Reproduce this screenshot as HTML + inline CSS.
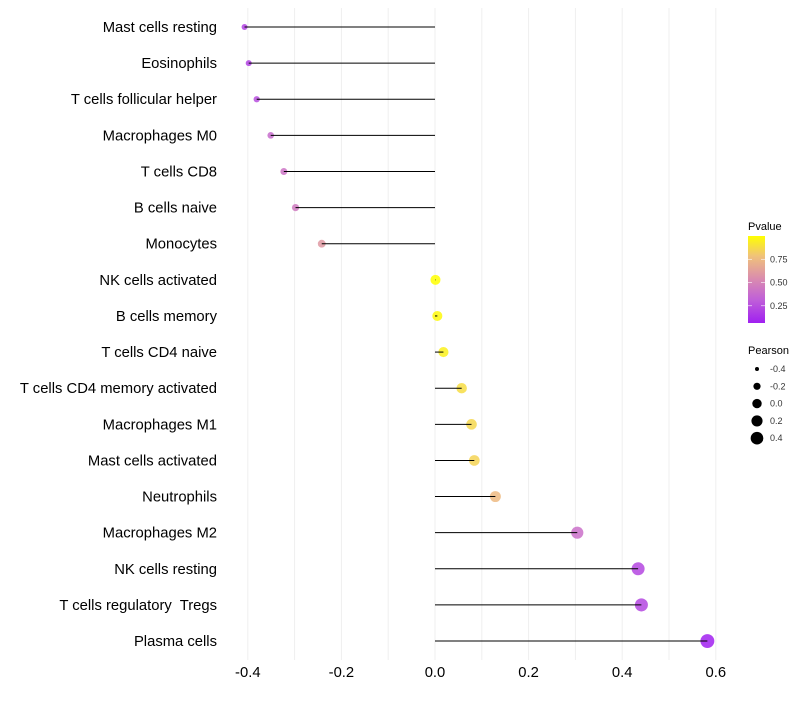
<!DOCTYPE html>
<html><head><meta charset="utf-8"><style>
body{margin:0;background:#fff;font-family:"Liberation Sans",Arial,sans-serif}
svg text{font-family:"Liberation Sans",Arial,sans-serif;white-space:pre}
</style></head><body>
<svg id="chart" width="800" height="700">
<defs><linearGradient id="pg" x1="0" y1="1" x2="0" y2="0">
<stop offset="0" stop-color="#a020f0"/><stop offset="0.27" stop-color="#c060d8"/><stop offset="0.5" stop-color="#d98ab0"/><stop offset="0.77" stop-color="#f0c27a"/><stop offset="1" stop-color="#ffff00"/></linearGradient></defs>
<g id="grid"></g>
<g id="marks"></g>
<g id="ylab"></g>
<g id="xlab"></g>
<g>
<text x="748" y="230" font-size="11">Pvalue</text>
<rect x="748" y="236" width="17" height="87" fill="url(#pg)"/>
<g id="cbticks"></g>
</g>
<g id="sizeleg">
<text x="748" y="354" font-size="11">Pearson</text>
</g>
</svg>
<script>
const categories=["Mast cells resting","Eosinophils","T cells follicular helper","Macrophages M0","T cells CD8","B cells naive","Monocytes","NK cells activated","B cells memory","T cells CD4 naive","T cells CD4 memory activated","Macrophages M1","Mast cells activated","Neutrophils","Macrophages M2","NK cells resting","T cells regulatory  Tregs","Plasma cells"];
const pearson=[-0.407,-0.398,-0.381,-0.351,-0.323,-0.298,-0.242,0.001,0.005,0.018,0.057,0.078,0.084,0.129,0.304,0.434,0.441,0.582];
const pvalues=[0.2,0.2,0.25,0.38,0.42,0.45,0.6,1.0,0.98,0.95,0.88,0.86,0.85,0.75,0.4,0.22,0.22,0.07];
const xTicks=[-0.4,-0.2,0.0,0.2,0.4,0.6];
const xTickLabels=["-0.4","-0.2","0.0","0.2","0.4","0.6"];
const cbTicks=[0.25,0.5,0.75];
const sizeLegendVals=[-0.4,-0.2,0.0,0.2,0.4];
const NS="http://www.w3.org/2000/svg";
const x=v=>435+v*468;
const y=i=>27+i*36.12;
const rad=v=>Math.sqrt(Math.max(2,25+40*v));
const lrad=v=>Math.sqrt(Math.max(2,22+45*v));
const pmin=0.065,pmax=1.0;
const stops=[[0,[160,32,240]],[0.27,[192,96,216]],[0.5,[217,138,176]],[0.77,[240,194,122]],[1,[255,255,0]]];
function col(p){let t=(p-pmin)/(pmax-pmin);t=Math.max(0,Math.min(1,t));
for(let k=1;k<stops.length;k++){if(t<=stops[k][0]){const a=stops[k-1],b=stops[k];const f=(t-a[0])/(b[0]-a[0]);
return "rgb("+a[1].map((c,j)=>Math.round(c+(b[1][j]-c)*f)).join(",")+")";}}return "rgb(255,255,0)";}
function mk(tag,attrs,parent){const e=document.createElementNS(NS,tag);for(const k in attrs)e.setAttribute(k,attrs[k]);parent.appendChild(e);return e;}
const grid=document.getElementById('grid'),marks=document.getElementById('marks'),ylab=document.getElementById('ylab'),xlab=document.getElementById('xlab');
for(let g=-4;g<=6;g++){const l=mk('line',{x1:x(g/10),x2:x(g/10),y1:8,y2:660,stroke:'#efefef','stroke-width':1},grid);

}
categories.forEach((c,i)=>{
const cy=y(i);
const pt=mk('circle',{cx:x(pearson[i]),cy:cy,r:rad(pearson[i]),fill:col(pvalues[i]),'fill-opacity':0.85},marks);


const ln=mk('line',{x1:x(0),x2:x(pearson[i]),y1:cy,y2:cy,stroke:'#000','stroke-width':1},marks);


const t=mk('text',{x:217,y:cy+5,'text-anchor':'end','font-size':14.8,fill:'#000'},ylab);t.textContent=c;


});
xTicks.forEach((v,i)=>{const t=mk('text',{x:x(v),y:677,'text-anchor':'middle','font-size':14.8,fill:'#000'},xlab);t.textContent=xTickLabels[i];

});
const cb=document.getElementById('cbticks');
cbTicks.forEach(v=>{const yy=323-(v-pmin)/(pmax-pmin)*87;
mk('line',{x1:748,x2:752,y1:yy,y2:yy,stroke:'#fff','stroke-width':0.6},cb);mk('line',{x1:761,x2:765,y1:yy,y2:yy,stroke:'#fff','stroke-width':0.6},cb);
const t=mk('text',{x:770,y:yy+3,'font-size':9,fill:'#333'},cb);t.textContent=v.toFixed(2);

});
const sl=document.getElementById('sizeleg');
sizeLegendVals.forEach((v,i)=>{const yy=369+i*17.3;
const c=mk('circle',{cx:757,cy:yy,r:lrad(v),fill:'#000'},sl);


const t=mk('text',{x:770,y:yy+3,'font-size':9,fill:'#333'},sl);t.textContent=v.toFixed(1);

});
</script>
</body></html>
